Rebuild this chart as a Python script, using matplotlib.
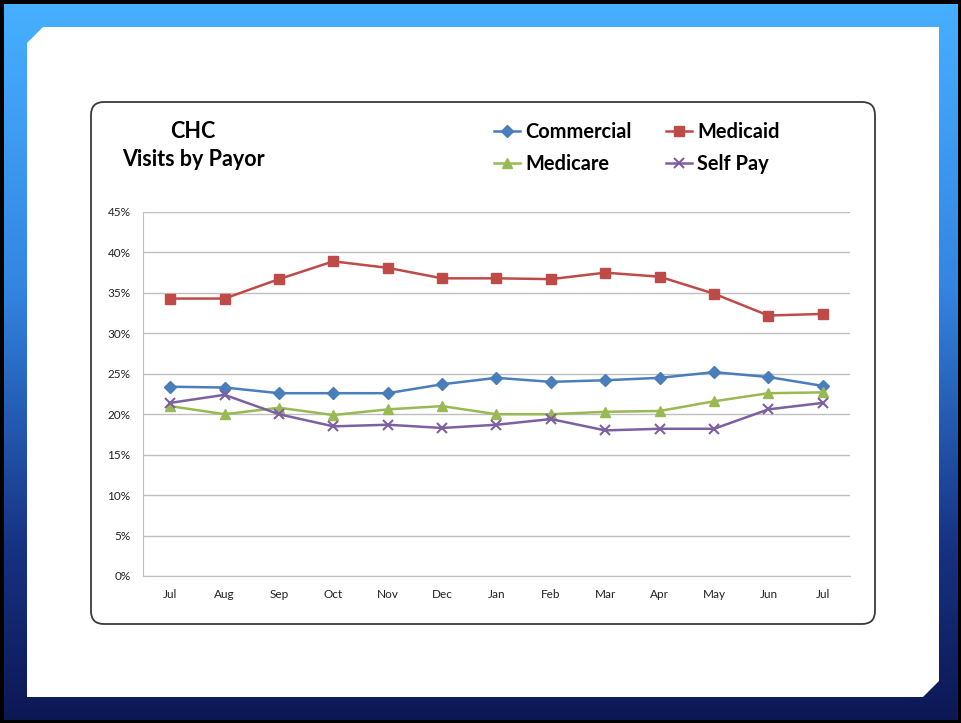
import numpy as np
import matplotlib
matplotlib.use("Agg")
import matplotlib.pyplot as plt
from matplotlib.patches import FancyBboxPatch, Polygon
from matplotlib.colors import LinearSegmentedColormap

plt.rcParams['font.family'] = ['Lato', 'DejaVu Sans']

months = ['Jul', 'Aug', 'Sep', 'Oct', 'Nov', 'Dec', 'Jan', 'Feb', 'Mar', 'Apr', 'May', 'Jun', 'Jul']
commercial = [23.4, 23.3, 22.6, 22.6, 22.6, 23.7, 24.5, 24.0, 24.2, 24.5, 25.2, 24.6, 23.5]
medicaid = [34.3, 34.3, 36.7, 38.9, 38.1, 36.8, 36.8, 36.7, 37.5, 37.0, 34.9, 32.2, 32.4]
medicare = [21.0, 20.0, 20.8, 19.9, 20.6, 21.0, 20.0, 20.0, 20.3, 20.4, 21.6, 22.6, 22.7]
self_pay = [21.4, 22.4, 20.0, 18.5, 18.7, 18.3, 18.7, 19.4, 18.0, 18.2, 18.2, 20.6, 21.4]
y_ticks = [0, 5, 10, 15, 20, 25, 30, 35, 40, 45]

W, H = 961, 723
fig = plt.figure(figsize=(W / 100, H / 100), dpi=100)

# slide background (pixel coordinates)
bg = fig.add_axes([0, 0, 1, 1])
bg.set_xlim(0, W)
bg.set_ylim(H, 0)
bg.axis('off')
grad = LinearSegmentedColormap.from_list('g', [(0, (0.28, 0.69, 1.0)), (0.4, (0.20, 0.52, 0.88)),
                                              (0.75, (0.09, 0.20, 0.52)), (1, (0.05, 0.09, 0.33))])
bg.imshow(np.linspace(0, 1, 256).reshape(-1, 1), cmap=grad, aspect='auto', extent=[0, W, H, 0], zorder=0)
bg.add_patch(plt.Rectangle((0, 0), W, H, fill=False, ec='black', lw=5, zorder=1))
bg.add_patch(Polygon([(27, 43), (43, 27), (939, 27), (939, 681), (923, 697), (27, 697)],
                     closed=True, fc='white', ec='none', zorder=2))
bg.add_patch(FancyBboxPatch((91, 102), 784, 522, boxstyle='round,pad=0,rounding_size=13',
                            fc='white', ec='#3a3a3a', lw=1.3, zorder=3))
bg.text(193, 131, 'CHC', ha='center', va='center', fontsize=15.5, fontweight='bold', zorder=4)
bg.text(193, 159, 'Visits by Payor', ha='center', va='center', fontsize=15.5, fontweight='bold', zorder=4)

ax = fig.add_axes([143 / W, 1 - 576 / H, (850 - 143) / W, (576 - 212) / H])
x = np.arange(len(months))
l1, = ax.plot(x, commercial, color='#4A7EBB', lw=1.8, marker='D', ms=6, label='Commercial')
l2, = ax.plot(x, medicaid, color='#BE4B48', lw=1.8, marker='s', ms=7.5, label='Medicaid')
l3, = ax.plot(x, medicare, color='#98B954', lw=1.8, marker='^', ms=7, label='Medicare')
l4, = ax.plot(x, self_pay, color='#7D60A0', lw=1.8, marker='x', ms=7, mew=1.5, label='Self Pay')

ax.set_xlim(-0.5, len(months) - 0.5)
ax.set_ylim(0, 45)
ax.set_yticks(y_ticks)
ax.set_yticklabels([f'{t}%' for t in y_ticks], fontsize=8.5, color='#222222')
ax.set_xticks(x)
ax.set_xticklabels(months, fontsize=8.5, color='#222222')
ax.tick_params(length=0, pad=9)
ax.tick_params(axis='x', pad=9)
ax.grid(axis='y', color='#BFBFBF', lw=1)
ax.set_axisbelow(True)
for s in ['top', 'right']:
    ax.spines[s].set_visible(False)
for s in ['left', 'bottom']:
    ax.spines[s].set_color('#BFBFBF')

fig.legend([l1, l3, l2, l4], ['Commercial', 'Medicare', 'Medicaid', 'Self Pay'], ncol=2,
           loc='upper left', bbox_to_anchor=(494 / W, 1 - 122 / H), frameon=False,
           prop={'size': 14.4, 'weight': 'bold'}, handlelength=1.3, handletextpad=0.25,
           columnspacing=1.75, labelspacing=0.6, borderpad=0, borderaxespad=0)

fig.savefig('out.png', dpi=100)
